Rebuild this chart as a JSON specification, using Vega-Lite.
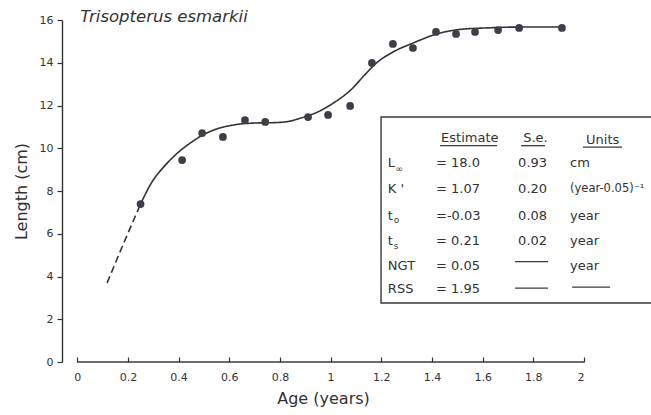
{
  "$schema": "https://vega.github.io/schema/vega-lite/v6.json",
  "width": 522,
  "height": 342,
  "autosize": {"type": "none"},
  "padding": {"left": 62, "top": 20, "right": 67, "bottom": 53},
  "background": "white",
  "config": {"view": {"stroke": null}, "font": "DejaVu Sans"},
  "datasets": {
    "pts": [
      {"age": 0.25, "length": 7.39},
      {"age": 0.414, "length": 9.45},
      {"age": 0.493, "length": 10.71},
      {"age": 0.575, "length": 10.53},
      {"age": 0.662, "length": 11.32},
      {"age": 0.742, "length": 11.23},
      {"age": 0.911, "length": 11.46},
      {"age": 0.99, "length": 11.56},
      {"age": 1.077, "length": 11.98},
      {"age": 1.163, "length": 13.99},
      {"age": 1.246, "length": 14.88},
      {"age": 1.325, "length": 14.69},
      {"age": 1.416, "length": 15.44},
      {"age": 1.495, "length": 15.35},
      {"age": 1.57, "length": 15.44},
      {"age": 1.661, "length": 15.53},
      {"age": 1.744, "length": 15.63},
      {"age": 1.913, "length": 15.63}
    ],
    "curve": [
      {"part": "dashed", "age": 0.118, "length": 3.7},
      {"part": "dashed", "age": 0.185, "length": 5.6},
      {"part": "dashed", "age": 0.25, "length": 7.39},
      {"part": "solid", "age": 0.25, "length": 7.39},
      {"part": "solid", "age": 0.295, "length": 8.42},
      {"part": "solid", "age": 0.347, "length": 9.2},
      {"part": "solid", "age": 0.398, "length": 9.8},
      {"part": "solid", "age": 0.453, "length": 10.3},
      {"part": "solid", "age": 0.5, "length": 10.65},
      {"part": "solid", "age": 0.556, "length": 10.92},
      {"part": "solid", "age": 0.623, "length": 11.1},
      {"part": "solid", "age": 0.7, "length": 11.18},
      {"part": "solid", "age": 0.78, "length": 11.2},
      {"part": "solid", "age": 0.832, "length": 11.25},
      {"part": "solid", "age": 0.879, "length": 11.4},
      {"part": "solid", "age": 0.946, "length": 11.68},
      {"part": "solid", "age": 1.009, "length": 12.1},
      {"part": "solid", "age": 1.077, "length": 12.7},
      {"part": "solid", "age": 1.144, "length": 13.55},
      {"part": "solid", "age": 1.18, "length": 13.98},
      {"part": "solid", "age": 1.246, "length": 14.5},
      {"part": "solid", "age": 1.325, "length": 14.92},
      {"part": "solid", "age": 1.42, "length": 15.35},
      {"part": "solid", "age": 1.511, "length": 15.56},
      {"part": "solid", "age": 1.617, "length": 15.63},
      {"part": "solid", "age": 1.747, "length": 15.67},
      {"part": "solid", "age": 1.917, "length": 15.67}
    ],
    "texts": [
      {"kind": "title", "text": "Trisopterus esmarkii", "ax": 0.012, "ly": 16.12},
      {"kind": "header", "text": "Estimate", "ax": 1.436, "ly": 10.5},
      {"kind": "header", "text": "S.e.", "ax": 1.76, "ly": 10.5},
      {"kind": "header", "text": "Units", "ax": 2.008, "ly": 10.4},
      {"kind": "body", "text": "L", "ax": 1.226, "ly": 9.31},
      {"kind": "body", "text": "K '", "ax": 1.226, "ly": 8.09},
      {"kind": "body", "text": "t", "ax": 1.226, "ly": 6.83},
      {"kind": "body", "text": "t", "ax": 1.226, "ly": 5.66},
      {"kind": "body", "text": "NGT", "ax": 1.226, "ly": 4.49},
      {"kind": "body", "text": "RSS", "ax": 1.226, "ly": 3.42},
      {"kind": "body", "text": "= 18.0", "ax": 1.416, "ly": 9.31},
      {"kind": "body", "text": "= 1.07", "ax": 1.416, "ly": 8.09},
      {"kind": "body", "text": "=-0.03", "ax": 1.416, "ly": 6.83},
      {"kind": "body", "text": "= 0.21", "ax": 1.416, "ly": 5.66},
      {"kind": "body", "text": "= 0.05", "ax": 1.416, "ly": 4.49},
      {"kind": "body", "text": "= 1.95", "ax": 1.416, "ly": 3.42},
      {"kind": "body", "text": "0.93", "ax": 1.74, "ly": 9.31},
      {"kind": "body", "text": "0.20", "ax": 1.74, "ly": 8.09},
      {"kind": "body", "text": "0.08", "ax": 1.74, "ly": 6.83},
      {"kind": "body", "text": "0.02", "ax": 1.74, "ly": 5.66},
      {"kind": "body", "text": "cm", "ax": 1.945, "ly": 9.31},
      {"kind": "small", "text": "(year-0.05)⁻¹", "ax": 1.945, "ly": 8.09},
      {"kind": "body", "text": "year", "ax": 1.945, "ly": 6.83},
      {"kind": "body", "text": "year", "ax": 1.945, "ly": 5.66},
      {"kind": "body", "text": "year", "ax": 1.945, "ly": 4.49},
      {"kind": "sub", "text": "∞", "ax": 1.256, "ly": 9.05},
      {"kind": "sub", "text": "o", "ax": 1.249, "ly": 6.62},
      {"kind": "sub", "text": "s", "ax": 1.249, "ly": 5.45}
    ],
    "rules": [
      {"x1": 0, "x2": 2, "y": 0},
      {"x1": 1.432, "x2": 1.657, "y": 10.12},
      {"x1": 1.752, "x2": 1.846, "y": 10.12},
      {"x1": 1.996, "x2": 2.15, "y": 10.05},
      {"x1": 1.728, "x2": 1.858, "y": 4.7},
      {"x1": 1.728, "x2": 1.858, "y": 3.46},
      {"x1": 1.953, "x2": 2.103, "y": 3.5}
    ],
    "box": [{"x1": 1.199, "x2": 2.5, "y1": 2.76, "y2": 11.46}]
  },
  "layer": [
    {
      "data": {"name": "box"},
      "mark": {"type": "rect", "fill": "white", "stroke": "#3a3a3a", "strokeWidth": 1.4},
      "encoding": {
        "x": {"field": "x1", "type": "quantitative", "scale": {"domain": [-0.06, 2], "nice": false, "zero": false},
          "axis": {"title": "Age (years)", "values": [0, 0.2, 0.4, 0.6, 0.8, 1, 1.2, 1.4, 1.6, 1.8, 2], "format": ".1~f",
            "domain": false, "grid": false, "tickSize": -5, "tickColor": "#333", "tickWidth": 1.2,
            "labelPadding": 14, "labelFontSize": 11, "labelColor": "#333", "labelFont": "DejaVu Sans",
            "titleFontSize": 16, "titleFontWeight": "normal", "titleColor": "#333", "titleFont": "DejaVu Sans", "titlePadding": 8}},
        "x2": {"field": "x2"},
        "y": {"field": "y1", "type": "quantitative", "scale": {"domain": [0, 16], "nice": false},
          "axis": {"title": "Length (cm)", "values": [0, 2, 4, 6, 8, 10, 12, 14, 16],
            "domain": true, "domainColor": "#333", "domainWidth": 1.4, "grid": false, "tickSize": 5, "tickColor": "#333", "tickWidth": 1.2,
            "labelPadding": 4, "labelFontSize": 11, "labelColor": "#333", "labelFont": "DejaVu Sans",
            "titleFontSize": 16, "titleFontWeight": "normal", "titleColor": "#333", "titleFont": "DejaVu Sans", "titlePadding": 10}},
        "y2": {"field": "y2"}
      }
    },
    {
      "data": {"name": "rules"},
      "mark": {"type": "rule", "color": "#3a3a3a", "strokeWidth": 1.3},
      "encoding": {
        "x": {"field": "x1", "type": "quantitative"},
        "x2": {"field": "x2"},
        "y": {"field": "y", "type": "quantitative"}
      }
    },
    {
      "data": {"name": "curve"},
      "mark": {"type": "line", "color": "#333", "strokeWidth": 1.6, "interpolate": "monotone"},
      "encoding": {
        "x": {"field": "age", "type": "quantitative"},
        "y": {"field": "length", "type": "quantitative"},
        "detail": {"field": "part"},
        "strokeDash": {"field": "part", "type": "nominal", "scale": {"domain": ["solid", "dashed"], "range": [[1, 0], [7, 4]]}, "legend": null}
      }
    },
    {
      "data": {"name": "pts"},
      "mark": {"type": "circle", "color": "#3b3f48", "opacity": 1, "size": 60},
      "encoding": {
        "x": {"field": "age", "type": "quantitative"},
        "y": {"field": "length", "type": "quantitative"}
      }
    },
    {
      "data": {"name": "texts"},
      "transform": [{"filter": "datum.kind === 'title'"}],
      "mark": {"type": "text", "align": "left", "baseline": "middle", "fontSize": 16.5, "fontStyle": "italic", "font": "DejaVu Sans", "color": "#333"},
      "encoding": {
        "x": {"field": "ax", "type": "quantitative"},
        "y": {"field": "ly", "type": "quantitative"},
        "text": {"field": "text"}
      }
    },
    {
      "data": {"name": "texts"},
      "transform": [{"filter": "datum.kind === 'header' || datum.kind === 'body'"}],
      "mark": {"type": "text", "align": "left", "baseline": "middle", "fontSize": 13, "font": "DejaVu Sans", "color": "#333"},
      "encoding": {
        "x": {"field": "ax", "type": "quantitative"},
        "y": {"field": "ly", "type": "quantitative"},
        "text": {"field": "text"}
      }
    },
    {
      "data": {"name": "texts"},
      "transform": [{"filter": "datum.kind === 'small'"}],
      "mark": {"type": "text", "align": "left", "baseline": "middle", "fontSize": 11.5, "font": "DejaVu Sans", "color": "#333"},
      "encoding": {
        "x": {"field": "ax", "type": "quantitative"},
        "y": {"field": "ly", "type": "quantitative"},
        "text": {"field": "text"}
      }
    },
    {
      "data": {"name": "texts"},
      "transform": [{"filter": "datum.kind === 'sub'"}],
      "mark": {"type": "text", "align": "left", "baseline": "middle", "fontSize": 9, "font": "DejaVu Sans", "color": "#333"},
      "encoding": {
        "x": {"field": "ax", "type": "quantitative"},
        "y": {"field": "ly", "type": "quantitative"},
        "text": {"field": "text"}
      }
    }
  ]
}
